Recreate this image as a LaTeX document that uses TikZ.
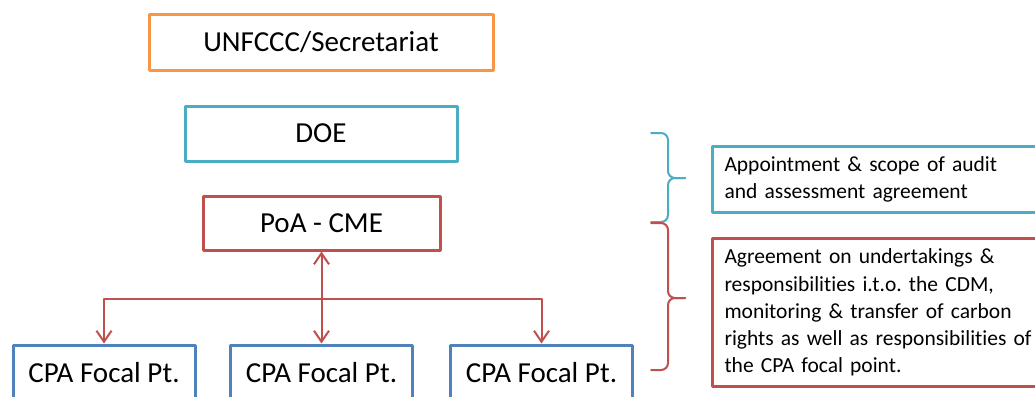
\documentclass[tikz,border=0pt]{standalone}
\usepackage{fontspec}
\setmainfont{Carlito}[Ligatures=NoCommon]
\usetikzlibrary{arrows.meta}

\begin{document}
\frenchspacing
\begin{tikzpicture}[x=1pt, y=-1pt, line cap=round, line join=round,
    box/.style={draw, line width=3pt, minimum height=55pt, inner sep=0pt,
                font=\fontsize{29}{35}\selectfont},
    notebox/.style={draw, line width=3pt, anchor=north west, inner xsep=12pt,
                    text width=316pt, align=left, font=\fontsize{21.5}{27.2}\selectfont},
    link/.style={draw=poacol, line width=2pt},
    barb/.tip={Straight Barb[length=11pt,width=15pt]},
    bracket/.style={line width=2pt, rounded corners=7pt}]
  \definecolor{unfcol}{HTML}{F79646}
  \definecolor{doecol}{HTML}{4BACC6}
  \definecolor{poacol}{HTML}{C0504D}
  \definecolor{cpacol}{HTML}{4F81BD}
  \useasboundingbox (0,0) rectangle (1035,396);
  \clip (0,0) rectangle (1035,396);

  \node[box, draw=unfcol, minimum width=344pt] (unfccc) at (321,42.5) {UNFCCC/Secretariat};
  \node[box, draw=doecol, minimum width=272pt] (doe) at (321,133.5) {DOE};
  \node[box, draw=poacol, minimum width=237pt, minimum height=54pt] (poa) at (321.5,223) {PoA - CME};
  \foreach \i/\x in {1/104, 2/321.5, 3/541.5} {%
    \node[box, draw=cpacol, minimum width=182pt] (cpa\i) at (\x,372.5) {CPA Focal Pt.};
  }

  \coordinate (split) at (321.5,299);
  \draw[link, barb-barb] (poa.south) -- (cpa2.north);
  \draw[link, -barb] (split) -| (cpa1.north);
  \draw[link, -barb] (split) -| (cpa3.north);

  \foreach \top/\mid/\bot/\col in {133/178/222/doecol, 223/298/370/poacol} {%
    \draw[bracket, \col] (651,\top) -| (668,\mid) -- (685,\mid);
    \draw[bracket, \col] (651,\bot) -| (668,\mid) -- (685,\mid);
  }

  \node[notebox, draw=doecol, minimum height=66pt] (doenote) at (711,145)
    {Appointment \& scope of audit\\and assessment agreement};
  \node[notebox, draw=poacol, minimum height=148pt] (poanote) at (711,237)
    {Agreement on undertakings \&\\responsibilities i.t.o. the CDM,\\monitoring \& transfer of carbon\\rights as well as responsibilities of\\the CPA focal point.};
\end{tikzpicture}
\end{document}
